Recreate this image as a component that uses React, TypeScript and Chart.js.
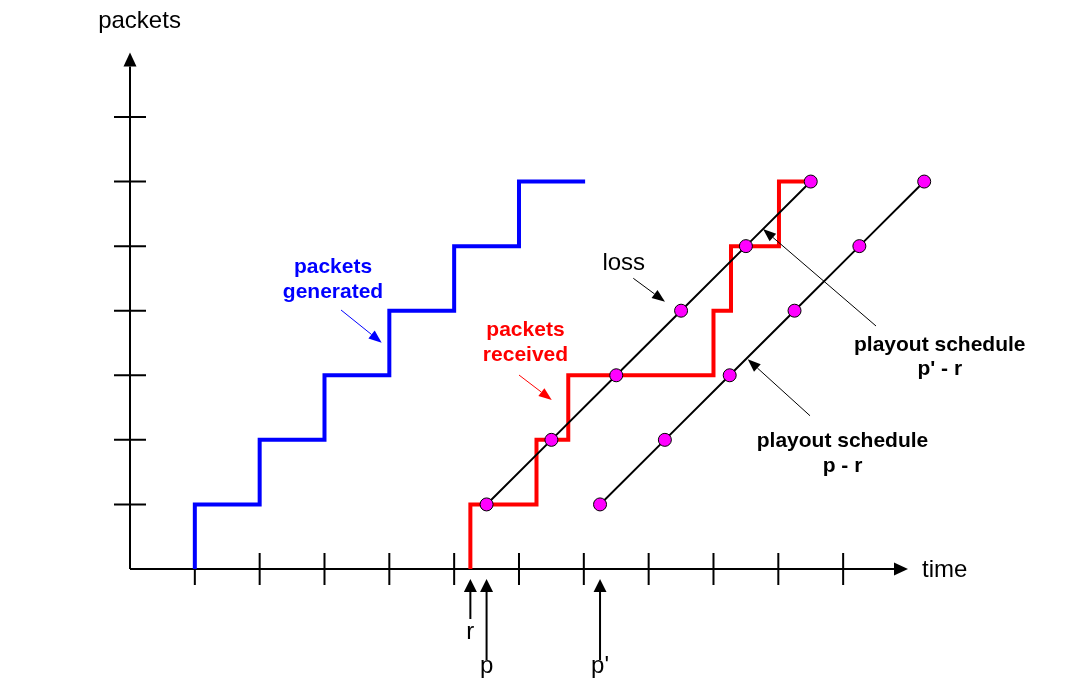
import { useEffect, useRef } from "react";
import { Chart, registerables } from "chart.js";

Chart.register(...registerables);

const FONT = '"Liberation Sans", Arial, Helvetica, sans-serif';

// ---- data ----
const packetCounts = [1, 2, 3, 4, 5, 6];
const generatedTimes = [1, 2, 3, 4, 5, 6];
const generatedEndTime = 7.02;
const receivedTimes = [5.25, 6.27, 6.76, 9.0, 9.27, 10.01];
const receivedEndTime = 10.5;
const playoutTimesP = [5.5, 6.5, 7.5, 8.5, 9.5, 10.5];
const playoutTimesP2 = [7.25, 8.25, 9.25, 10.25, 11.25, 12.25];
const xTickValues = [1, 2, 3, 4, 5, 6, 7, 8, 9, 10, 11];
const yTickValues = [1, 2, 3, 4, 5, 6, 7];
const X_AXIS_END = 12;
const Y_AXIS_END = 8;
const X_MAX = 12.5;
const Y_MAX = 8;

// time markers under the axis: r, p, p'
const markerTimes = [5.25, 5.5, 7.25];
const markerLabels = ["r", "p", "p'"];

type Txt = { text: string; x: number; y: number; align: CanvasTextAlign; bold: boolean; color: string; size: number };
const texts: Txt[] = [
  { text: "packets", x: 0.147, y: 8.378, align: "center", bold: false, color: "#000000", size: 24 },
  { text: "time", x: 12.217, y: -0.124, align: "left", bold: false, color: "#000000", size: 24 },
  { text: "loss", x: 7.287, y: 4.631, align: "left", bold: false, color: "#000000", size: 24 },
  { text: "packets", x: 3.131, y: 4.584, align: "center", bold: true, color: "#0000FF", size: 21 },
  { text: "generated", x: 3.131, y: 4.197, align: "center", bold: true, color: "#0000FF", size: 21 },
  { text: "packets", x: 6.1, y: 3.608, align: "center", bold: true, color: "#FF0000", size: 21 },
  { text: "received", x: 6.1, y: 3.221, align: "center", bold: true, color: "#FF0000", size: 21 },
  { text: "playout schedule", x: 12.49, y: 3.381, align: "center", bold: true, color: "#000000", size: 21 },
  { text: "p' - r", x: 12.49, y: 3.004, align: "center", bold: true, color: "#000000", size: 21 },
  { text: "playout schedule", x: 10.99, y: 1.885, align: "center", bold: true, color: "#000000", size: 21 },
  { text: "p - r", x: 10.99, y: 1.498, align: "center", bold: true, color: "#000000", size: 21 },
];

const pointers = [
  { from: [3.255, 4.011], to: [3.882, 3.505], color: "#0000FF" },
  { from: [6.0, 3.004], to: [6.505, 2.617], color: "#FF0000" },
  { from: [7.763, 4.502], to: [8.252, 4.14], color: "#000000" },
  { from: [11.507, 3.763], to: [9.764, 5.266], color: "#000000" },
  { from: [10.489, 2.373], to: [9.528, 3.248], color: "#000000" },
];

function stepPoints(times: number[], counts: number[], end: number) {
  const pts = times.map((t, i) => ({ x: t, y: i === 0 ? 0 : counts[i - 1] }));
  pts.push({ x: end, y: counts[counts.length - 1] });
  return pts;
}

function drawArrow(
  ctx: CanvasRenderingContext2D,
  x1: number, y1: number, x2: number, y2: number,
  headLen: number, headW: number, lineW: number, color: string
) {
  const ang = Math.atan2(y2 - y1, x2 - x1);
  const bx = x2 - headLen * Math.cos(ang);
  const by = y2 - headLen * Math.sin(ang);
  ctx.save();
  ctx.strokeStyle = color;
  ctx.fillStyle = color;
  ctx.lineWidth = lineW;
  ctx.beginPath();
  ctx.moveTo(x1, y1);
  ctx.lineTo(bx, by);
  ctx.stroke();
  const px = -Math.sin(ang) * headW / 2;
  const py = Math.cos(ang) * headW / 2;
  ctx.beginPath();
  ctx.moveTo(x2, y2);
  ctx.lineTo(bx + px, by + py);
  ctx.lineTo(bx - px, by - py);
  ctx.closePath();
  ctx.fill();
  ctx.restore();
}

const diagramPlugin = {
  id: "diagram",
  beforeDatasetsDraw(chart: any) {
    const ctx: CanvasRenderingContext2D = chart.ctx;
    const xs = chart.scales.x;
    const ys = chart.scales.y;
    const x0 = xs.getPixelForValue(0);
    const y0 = ys.getPixelForValue(0);
    ctx.save();
    // axes
    drawArrow(ctx, x0, y0, x0, ys.getPixelForValue(Y_AXIS_END), 14, 13, 2, "#000");
    drawArrow(ctx, x0, y0, xs.getPixelForValue(X_AXIS_END), y0, 14, 13, 2, "#000");
    ctx.strokeStyle = "#000";
    ctx.lineWidth = 2;
    ctx.beginPath();
    for (const v of xTickValues) {
      const px = xs.getPixelForValue(v);
      ctx.moveTo(px, y0 - 16);
      ctx.lineTo(px, y0 + 16);
    }
    for (const v of yTickValues) {
      const py = ys.getPixelForValue(v);
      ctx.moveTo(x0 - 16, py);
      ctx.lineTo(x0 + 16, py);
    }
    ctx.stroke();
    ctx.restore();
  },
  afterDatasetsDraw(chart: any) {
    const ctx: CanvasRenderingContext2D = chart.ctx;
    const xs = chart.scales.x;
    const ys = chart.scales.y;
    const y0 = ys.getPixelForValue(0);
    // markers below the time axis
    markerTimes.forEach((t, i) => {
      const px = xs.getPixelForValue(t);
      const len = i === 0 ? 40 : 81;
      drawArrow(ctx, px, y0 + 10 + len, px, y0 + 10, 13, 13, 2, "#000");
      ctx.save();
      ctx.fillStyle = "#000";
      ctx.font = `24px ${FONT}`;
      ctx.textAlign = "center";
      ctx.textBaseline = "alphabetic";
      const base = i === 0 ? y0 + 70 : y0 + 104;
      ctx.fillText(markerLabels[i], px, base);
      ctx.restore();
    });
    // pointer arrows
    for (const p of pointers) {
      drawArrow(
        ctx,
        xs.getPixelForValue(p.from[0]), ys.getPixelForValue(p.from[1]),
        xs.getPixelForValue(p.to[0]), ys.getPixelForValue(p.to[1]),
        13, 10, 1, p.color
      );
    }
    // texts
    for (const t of texts) {
      ctx.save();
      ctx.fillStyle = t.color;
      ctx.font = `${t.bold ? "bold " : ""}${t.size}px ${FONT}`;
      ctx.textAlign = t.align;
      ctx.textBaseline = "alphabetic";
      ctx.fillText(t.text, xs.getPixelForValue(t.x), ys.getPixelForValue(t.y));
      ctx.restore();
    }
  },
};

export default function App() {
  const ref = useRef<HTMLCanvasElement>(null);
  useEffect(() => {
    const canvas = ref.current;
    if (!canvas) return;
    const playoutStyle = {
      borderColor: "#000000",
      borderWidth: 2,
      pointRadius: 6.5,
      pointBackgroundColor: "#FF00FF",
      pointBorderColor: "#000000",
      pointBorderWidth: 1,
      clip: false as any,
      tension: 0,
    };
    const chart = new Chart(canvas, {
      type: "line",
      data: {
        datasets: [
          {
            label: "playout p - r",
            data: playoutTimesP2.map((t, i) => ({ x: t, y: packetCounts[i] })),
            ...playoutStyle,
          },
          {
            label: "playout p' - r",
            data: playoutTimesP.map((t, i) => ({ x: t, y: packetCounts[i] })),
            ...playoutStyle,
          },
          {
            label: "packets received",
            data: stepPoints(receivedTimes, packetCounts, receivedEndTime),
            stepped: "after",
            borderColor: "#FF0000",
            borderWidth: 4,
            borderJoinStyle: "miter",
            borderCapStyle: "butt",
            pointRadius: 0,
            clip: false as any,
          },
          {
            label: "packets generated",
            data: stepPoints(generatedTimes, packetCounts, generatedEndTime),
            stepped: "after",
            borderColor: "#0000FF",
            borderWidth: 4,
            borderJoinStyle: "miter",
            borderCapStyle: "butt",
            pointRadius: 0,
            clip: false as any,
          },
        ],
      },
      options: {
        responsive: false,
        animation: false,
        devicePixelRatio: 1,
        events: [],
        layout: { padding: { left: 130, right: 147.6, top: 52.4, bottom: 120 } },
        scales: {
          x: { type: "linear", min: 0, max: X_MAX, display: false },
          y: { type: "linear", min: 0, max: Y_MAX, display: false },
        },
        plugins: {
          legend: { display: false },
          tooltip: { enabled: false },
          title: { display: false },
        },
      },
      plugins: [diagramPlugin],
    });
    return () => chart.destroy();
  }, []);
  return (
    <div style={{ position: "absolute", left: 0, top: 0, width: 1088, height: 689, background: "#ffffff" }}>
      <canvas ref={ref} width={1088} height={689} style={{ display: "block", width: 1088, height: 689 }} />
    </div>
  );
}
